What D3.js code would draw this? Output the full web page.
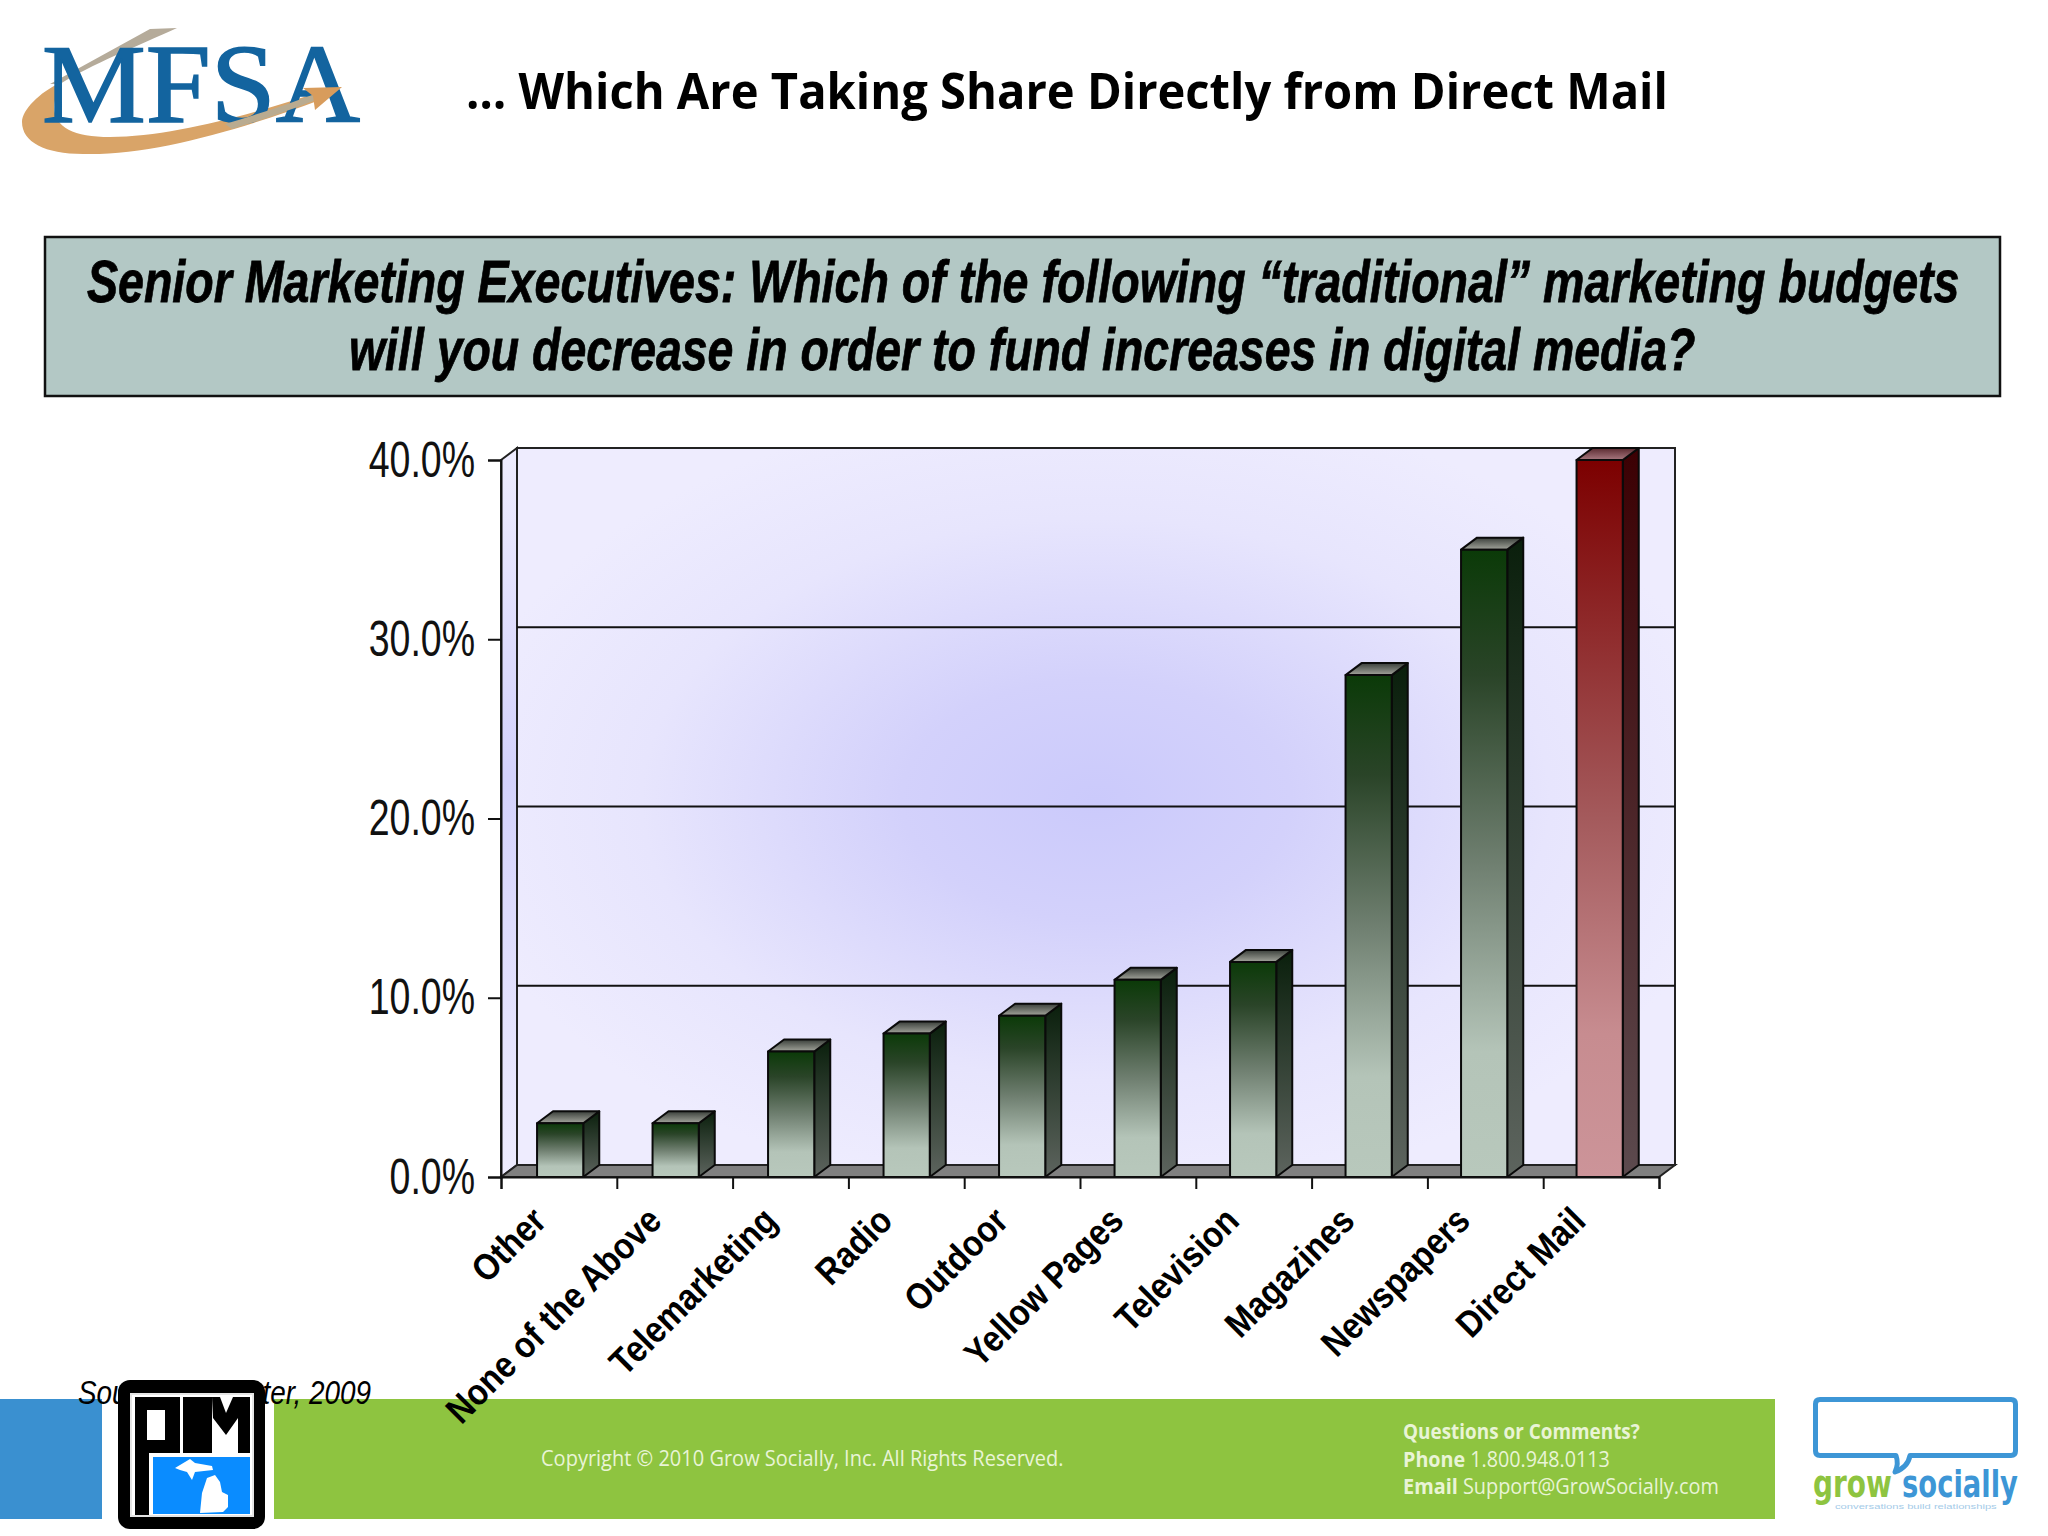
<!DOCTYPE html>
<html>

<head>
	<meta charset="utf-8">
	<title>Which Are Taking Share Directly from Direct Mail</title>
	<script type="text/javascript" src="https://cdn.jsdelivr.net/npm/d3@7/dist/d3.min.js"></script>
	<style>
		html, body { margin: 0; padding: 0; background: #fff; }
		svg { display: block; }
		text { font-family: "Liberation Sans", Arial, sans-serif; }
	</style>
</head>

<body>
	<div id="chart"></div>

	<script type="text/javascript">
		var categories = ["Other", "None of the Above", "Telemarketing", "Radio", "Outdoor", "Yellow Pages", "Television", "Magazines", "Newspapers", "Direct Mail"];
		var values = [3, 3, 7, 8, 9, 11, 12, 28, 35, 40];
		var yTicks = [0, 10, 20, 30, 40];
		var highlighted = ["Direct Mail"];
		var title = "\u2026 Which Are Taking Share Directly from Direct Mail";
		var question = ["Senior Marketing Executives: Which of the following \u201Ctraditional\u201D marketing budgets", "will you decrease in order to fund increases in digital media?"];

		var width = 2048;
		var height = 1536;
		var depthX = 16;
		var depthY = 12;

		var svg = d3.select("#chart").append("svg").attr("width", width).attr("height", height);
		var defs = svg.append("defs");

		function gradient(id, stops) {
			var g = defs.append("linearGradient").attr("id", id)
				.attr("x1", 0).attr("y1", 0).attr("x2", 0).attr("y2", 1);
			stops.forEach(function (s) {
				g.append("stop").attr("offset", s[0]).attr("stop-color", s[1]);
			});
		}
		gradient("greenFront", [[0, "#0b3a08"], [0.2, "#2a4428"], [0.5, "#6f7f70"], [0.8, "#b4c4b8"], [1, "#b8c8bc"]]);
		gradient("greenSide", [[0, "#0a1f0c"], [1, "#5d645e"]]);
		gradient("greenTop", [[0, "#3a3f3a"], [1, "#a3a59c"]]);
		gradient("redFront", [[0, "#7c0000"], [0.5, "#a45a5c"], [0.8, "#c78c90"], [1, "#cc9499"]]);
		gradient("redSide", [[0, "#3c0003"], [1, "#5c4a4e"]]);
		gradient("redTop", [[0, "#5a2a30"], [1, "#a87880"]]);
		gradient("sideWall", [[0, "#eeecfe"], [0.45, "#d3d1fb"], [1, "#eeecfe"]]);

		var glow = defs.append("radialGradient").attr("id", "wallGlow")
			.attr("cx", 0.5).attr("cy", 0.49).attr("r", 0.56);
		glow.append("stop").attr("offset", 0).attr("stop-color", "#cbcafb");
		glow.append("stop").attr("offset", 0.3).attr("stop-color", "#d3d1fb");
		glow.append("stop").attr("offset", 0.7).attr("stop-color", "#e7e5fd");
		glow.append("stop").attr("offset", 1).attr("stop-color", "#eeecfe");

		// the slide fonts are narrower than ours, so scale the text sideways to its measured width
		function fitText(g, parts, x, baseline, w, size, opts) {
			opts = opts || {};
			var t = g.append("text")
				.attr("font-size", size)
				.attr("font-weight", opts.weight || "normal")
				.attr("font-style", opts.style || "normal")
				.style("font-family", opts.family || null)
				.attr("fill", opts.fill || "#000");
			if (opts.stroke) t.attr("stroke", opts.fill || "#000").attr("stroke-width", opts.stroke);
			[].concat(parts).forEach(function (p) {
				if (typeof p === "string") t.append("tspan").text(p);
				else t.append("tspan").attr("font-weight", 700).text(p.bold);
			});
			var k = w / t.node().getComputedTextLength();
			t.attr("transform", "translate(" + x + "," + baseline + ") scale(" + k + ",1)");
			return t;
		}

		/* header */
		var mfsa = svg.append("g");
		mfsa.append("path").attr("fill", "#b5ab9a")
			.attr("d", "M177,28 L150,29 L50,84 L60,84 C90,65 140,45 177,28 Z");
		mfsa.append("path").attr("fill", "#d9a468")
			.attr("d", "M60,83 C40,92 22,110 22,122 C22,142 45,154 83,154 C150,156 240,130 320,100 L316,93 C250,115 170,137 110,137 C70,137 50,125 55,100 C56,94 58,88 60,83 Z");
		fitText(mfsa, "MFSA", 42, 122, 318, 112, { family: "'Liberation Serif', serif", fill: "#13649f", stroke: 1.6 });
		mfsa.append("path").attr("fill", "#b9ab90")
			.attr("d", "M225,124 C255,115 290,104 320,92 L324,97 C290,110 260,121 232,129 Z");
		mfsa.append("path").attr("fill", "#d89c5c").attr("d", "M303,88 L342,87 L315,110 L313,96 Z");

		fitText(svg, title, 466, 109, 1202, 50, { weight: 700, family: "'Open Sans', sans-serif" });

		svg.append("rect").attr("x", 45).attr("y", 237).attr("width", 1955).attr("height", 159)
			.attr("fill", "#b3c8c5").attr("stroke", "#111").attr("stroke-width", 2.5);
		fitText(svg, question[0], 87, 302, 1873, 60, { weight: "bold", style: "italic", stroke: 0.8 });
		fitText(svg, question[1], 349, 370, 1347, 60, { weight: "bold", style: "italic", stroke: 0.8 });

		/* chart */
		var xEdge = d3.scaleLinear().domain([0, categories.length]).range([501, 1659]);
		var x = d3.scaleBand().domain(categories).range([502.4, 1657.4]).paddingInner(0.6).paddingOuter(0.3);
		var y = d3.scaleLinear().domain([0, 40]).range([1177, 460]);

		var plot = svg.append("g");

		plot.append("rect").attr("x", xEdge(0) + depthX).attr("y", y(40) - depthY)
			.attr("width", xEdge(10) - xEdge(0)).attr("height", y(0) - y(40))
			.attr("fill", "url(#wallGlow)").attr("stroke", "#222").attr("stroke-width", 2);

		plot.append("polygon").attr("fill", "url(#sideWall)").attr("stroke", "#222").attr("stroke-width", 2)
			.attr("points", [[xEdge(0), y(40)], [xEdge(0) + depthX, y(40) - depthY], [xEdge(0) + depthX, y(0) - depthY], [xEdge(0), y(0)]].join(" "));

		plot.selectAll("line.grid")
			.data(yTicks.filter(function (d) { return d > 0 && d < 40; }))
			.enter().append("line")
			.attr("class", "grid")
			.attr("x1", xEdge(0) + depthX).attr("x2", xEdge(10) + depthX)
			.attr("y1", function (d) { return y(d) - depthY; })
			.attr("y2", function (d) { return y(d) - depthY; })
			.attr("stroke", "#111").attr("stroke-width", 2);

		plot.append("polygon").attr("fill", "#808080").attr("stroke", "#222").attr("stroke-width", 2)
			.attr("points", [[xEdge(0), y(0)], [xEdge(0) + depthX, y(0) - depthY], [xEdge(10) + depthX, y(0) - depthY], [xEdge(10), y(0)]].join(" "));

		function isRed(d) { return highlighted.indexOf(d.name) >= 0; }

		var rows = categories.map(function (c, i) { return { name: c, value: values[i] }; });
		var bars = plot.selectAll("g.bar").data(rows).enter().append("g").attr("class", "bar")
			.attr("stroke", "#0a0a0a").attr("stroke-width", 2).attr("stroke-linejoin", "round");

		bars.append("polygon") // side face
			.attr("fill", function (d) { return isRed(d) ? "url(#redSide)" : "url(#greenSide)"; })
			.attr("points", function (d) {
				var r = x(d.name) + x.bandwidth();
				return [[r, y(d.value)], [r + depthX, y(d.value) - depthY], [r + depthX, y(0) - depthY], [r, y(0)]].join(" ");
			});
		bars.append("polygon") // cap
			.attr("fill", function (d) { return isRed(d) ? "url(#redTop)" : "url(#greenTop)"; })
			.attr("points", function (d) {
				var l = x(d.name), r = l + x.bandwidth();
				return [[l, y(d.value)], [l + depthX, y(d.value) - depthY], [r + depthX, y(d.value) - depthY], [r, y(d.value)]].join(" ");
			});
		bars.append("rect") // front face
			.attr("x", function (d) { return x(d.name); })
			.attr("y", function (d) { return y(d.value); })
			.attr("width", x.bandwidth())
			.attr("height", function (d) { return y(0) - y(d.value); })
			.attr("fill", function (d) { return isRed(d) ? "url(#redFront)" : "url(#greenFront)"; });

		var yAxis = d3.axisLeft(y).tickValues(yTicks).tickSize(13).tickPadding(13)
			.tickFormat(function (d) { return d.toFixed(1) + "%"; });
		var gY = svg.append("g").attr("transform", "translate(" + xEdge(0) + ",0)").call(yAxis);
		gY.selectAll("line, path").attr("stroke", "#111").attr("stroke-width", 2);
		gY.selectAll("text").attr("font-size", 50).attr("fill", "#111")
			.attr("x", 0).attr("transform", "translate(-26,0) scale(0.75,1)");

		var xAxis = d3.axisBottom(xEdge).tickValues(d3.range(0, categories.length + 1)).tickSize(12).tickFormat("");
		var gX = svg.append("g").attr("transform", "translate(0," + y(0) + ")").call(xAxis);
		gX.selectAll("line, path").attr("stroke", "#111").attr("stroke-width", 2);

		/* footer */
		svg.append("rect").attr("x", 0).attr("y", 1399).attr("width", 102).attr("height", 120).attr("fill", "#3a90d0");
		svg.append("rect").attr("x", 274).attr("y", 1399).attr("width", 1501).attr("height", 120).attr("fill", "#8ec440");

		fitText(svg, "Source: Forrester, 2009", 78, 1404, 293, 33, { style: "italic" });

		var pale = "#e9f4d6";
		var calibri = "'Open Sans', sans-serif";
		fitText(svg, "Copyright \u00A9 2010 Grow Socially, Inc. All Rights Reserved.", 541, 1466, 523, 21, { fill: pale, family: calibri });
		fitText(svg, "Questions or Comments?", 1403, 1439, 237, 21, { fill: pale, family: calibri, weight: 700 });
		fitText(svg, [{ bold: "Phone" }, " 1.800.948.0113"], 1403, 1467, 207, 21, { fill: pale, family: calibri });
		fitText(svg, [{ bold: "Email" }, " Support@GrowSocially.com"], 1403, 1494, 316, 21, { fill: pale, family: calibri });

		/* PIM logo */
		var pim = svg.append("g");
		pim.append("rect").attr("x", 118).attr("y", 1380).attr("width", 147).attr("height", 149).attr("rx", 12).attr("fill", "#000");
		pim.append("rect").attr("x", 130).attr("y", 1393).attr("width", 124).attr("height", 124).attr("fill", "#e4e4e4");
		pim.append("rect").attr("x", 132).attr("y", 1395).attr("width", 120).attr("height", 120).attr("fill", "#fff");
		pim.append("path").attr("fill", "#000").attr("fill-rule", "evenodd")
			.attr("d", "M135,1397 H180 V1453 H149 V1515 H135 Z M147,1410 V1440 H165 V1410 Z");
		pim.append("rect").attr("x", 183).attr("y", 1397).attr("width", 29).attr("height", 56).attr("fill", "#000");
		pim.append("path").attr("fill", "#000")
			.attr("d", "M212,1397 H250 V1453 H238 V1418 L226,1435 L213,1418 Z");
		pim.append("path").attr("fill", "#fff").attr("d", "M220,1397 H233 L226,1413 Z");
		pim.append("rect").attr("x", 153).attr("y", 1457).attr("width", 97).attr("height", 57).attr("fill", "#0a8cff");
		pim.append("path").attr("fill", "#fff")
			.attr("d", "M175,1468 L190,1459 L195,1463 L212,1466 L213,1470 L195,1472 L192,1480 L187,1472 L180,1470 Z M200,1513 L202,1493 L207,1478 L215,1475 L220,1482 L222,1492 L228,1495 L228,1507 L223,1512 Z");

		/* grow socially logo */
		var blue = "#3d96d6";
		var grow = svg.append("g");
		grow.append("path").attr("fill", "none").attr("stroke", blue).attr("stroke-width", 5).attr("stroke-linejoin", "round")
			.attr("d", "M1820,1399.5 H2011 Q2015.5,1399.5 2015.5,1404 V1451 Q2015.5,1455.5 2011,1455.5 H1910 Q1908,1467 1895,1472 Q1899,1464 1896,1455.5 H1820 Q1815.5,1455.5 1815.5,1451 V1404 Q1815.5,1399.5 1820,1399.5 Z");
		fitText(grow, "grow", 1813, 1497, 79, 38, { weight: 700, fill: "#8ec440", family: "'DejaVu Sans', sans-serif" });
		fitText(grow, "socially", 1902, 1497, 116, 38, { weight: 700, fill: blue, family: "'DejaVu Sans', sans-serif" });
		fitText(grow, "conversations build relationships", 1835, 1509, 162, 7, { fill: "#a5cbe8" });

		/* category labels go last, the long one runs over the footer */
		svg.selectAll("text.cat").data(categories).enter().append("text")
			.attr("class", "cat")
			.attr("text-anchor", "end")
			.attr("font-size", 37).attr("font-weight", "bold").attr("fill", "#000")
			.attr("transform", function (d) {
				return "translate(" + (x(d) + x.bandwidth() / 2 - 12) + ",1223) rotate(-45) scale(0.88,1)";
			})
			.text(function (d) { return d; });
	</script>

</body>

</html>
